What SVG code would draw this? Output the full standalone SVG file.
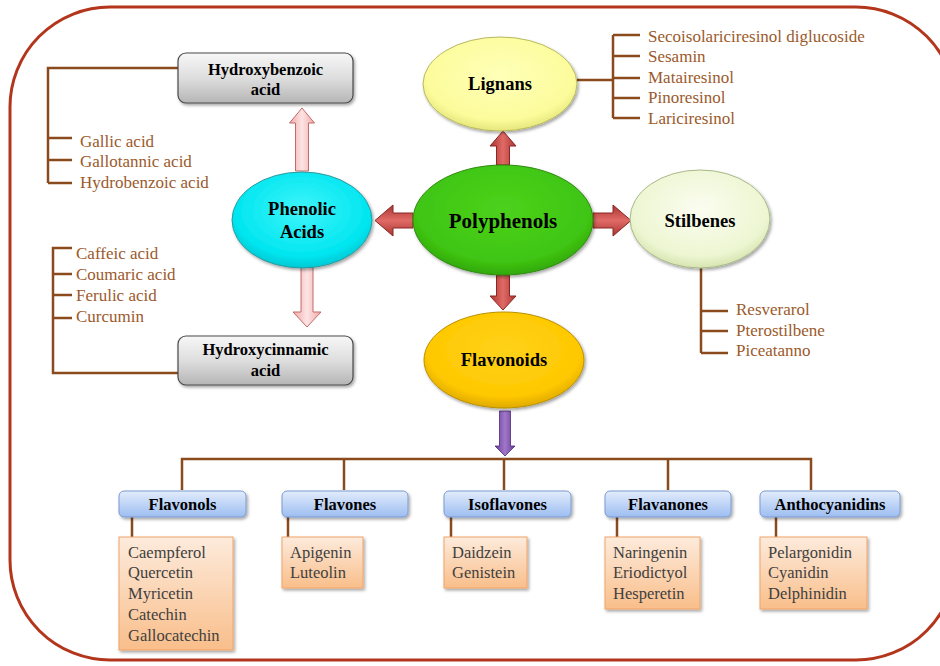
<svg xmlns="http://www.w3.org/2000/svg" width="940" height="666" viewBox="0 0 940 666">
<defs>
<linearGradient id="gGray" x1="0" y1="0" x2="0" y2="1"><stop offset="0" stop-color="#F7F7F7"/><stop offset="0.5" stop-color="#DEDEDE"/><stop offset="1" stop-color="#B5B5B5"/></linearGradient>
<linearGradient id="gBlue" x1="0" y1="0" x2="0" y2="1"><stop offset="0" stop-color="#E2ECFC"/><stop offset="1" stop-color="#9DBDF1"/></linearGradient>
<linearGradient id="gOrange" x1="0" y1="0" x2="0" y2="1"><stop offset="0" stop-color="#FDEBDC"/><stop offset="1" stop-color="#F9BE8A"/></linearGradient>
<radialGradient id="gCyan" cx="0.5" cy="0.4" r="0.6"><stop offset="0" stop-color="#40F4FA"/><stop offset="0.8" stop-color="#00E6F0"/><stop offset="1" stop-color="#00C8D4"/></radialGradient>
<radialGradient id="gGreen" cx="0.5" cy="0.4" r="0.6"><stop offset="0" stop-color="#4CD21C"/><stop offset="0.8" stop-color="#3FC512"/><stop offset="1" stop-color="#32A80C"/></radialGradient>
<radialGradient id="gYellow" cx="0.5" cy="0.4" r="0.6"><stop offset="0" stop-color="#FFFFB8"/><stop offset="0.8" stop-color="#FCFC9C"/><stop offset="1" stop-color="#E6E67C"/></radialGradient>
<radialGradient id="gPale" cx="0.5" cy="0.4" r="0.6"><stop offset="0" stop-color="#FBFDF0"/><stop offset="0.8" stop-color="#EDF6D2"/><stop offset="1" stop-color="#D6E4B0"/></radialGradient>
<radialGradient id="gGold" cx="0.5" cy="0.4" r="0.6"><stop offset="0" stop-color="#FFD21A"/><stop offset="0.8" stop-color="#FFC800"/><stop offset="1" stop-color="#E0AA00"/></radialGradient>
<linearGradient id="gRedV" x1="0" y1="0" x2="1" y2="0"><stop offset="0" stop-color="#A83430"/><stop offset="0.5" stop-color="#E06A66"/><stop offset="1" stop-color="#A83430"/></linearGradient>
<linearGradient id="gRedH" x1="0" y1="0" x2="0" y2="1"><stop offset="0" stop-color="#A83430"/><stop offset="0.5" stop-color="#E06A66"/><stop offset="1" stop-color="#A83430"/></linearGradient>
<linearGradient id="gPink" x1="0" y1="0" x2="1" y2="0"><stop offset="0" stop-color="#F2A8A8"/><stop offset="0.5" stop-color="#FDE4E4"/><stop offset="1" stop-color="#F2A8A8"/></linearGradient>
<linearGradient id="gPurple" x1="0" y1="0" x2="1" y2="0"><stop offset="0" stop-color="#6A3A9A"/><stop offset="0.5" stop-color="#A078C8"/><stop offset="1" stop-color="#6A3A9A"/></linearGradient>
<filter id="sh" x="-20%" y="-20%" width="140%" height="150%"><feDropShadow dx="1.5" dy="2" stdDeviation="1.5" flood-color="#000" flood-opacity="0.35"/></filter>
</defs>
<style>
.br{fill:none;stroke:#8B4A1C;stroke-width:2.5}
.lt{font-family:"Liberation Serif","Times New Roman",serif;font-size:17px;fill:#9B5A2C}
.ot{font-family:"Liberation Serif","Times New Roman",serif;font-size:16.5px;fill:#3F3F3F}
.bl{font-family:"Liberation Serif","Times New Roman",serif;font-size:16.5px;font-weight:bold;fill:#000;text-anchor:middle}
.el{font-family:"Liberation Serif","Times New Roman",serif;font-size:18.5px;font-weight:bold;fill:#000;text-anchor:middle}
.gray{fill:url(#gGray);stroke:#4A4A4A;stroke-width:1.2}
.blue{fill:url(#gBlue);stroke:#7B9BD0;stroke-width:1}
.orange{fill:url(#gOrange);stroke:#F0A468;stroke-width:1}
.ra{stroke:#8A2624;stroke-width:1}
.pa{fill:url(#gPink);stroke:#C06A6A;stroke-width:1}
</style>
<rect x="0" y="0" width="940" height="666" fill="#FFFFFF"/>
<rect id="frame" x="10" y="7" width="946" height="653" rx="100" ry="100" fill="none" stroke="#B3361C" stroke-width="3"/>

<g id="connectors">
<path class="br" d="M178 68 H48 V183 M48 138 H72 M48 160 H72 M48 183 H72"/>
<path class="br" d="M178 373 H53 V248 H72 M53 274 H72 M53 295 H72 M53 318 H72"/>
<path class="br" d="M577 80 H613 M613 35 V118 M613 35 H640 M613 56 H640 M613 78 H640 M613 98 H640 M613 118 H640"/>
<path class="br" d="M701 268 V353 M701 311 H728 M701 331 H728 M701 353 H728"/>
<path class="br" d="M182 490 V459 H811 V490 M344 459 V490 M504 459 V490 M668 459 V490"/>
<path class="br" d="M132 517 V537 M288 517 V537 M451 517 V537 M617 517 V537 M776 517 V537"/>
<polygon class="ra" fill="url(#gRedV)" points="503,131 516,146 509.5,146 509.5,165 496.5,165 496.5,146 490,146"/>
<polygon class="ra" fill="url(#gRedV)" points="503,310 516,296 509.5,296 509.5,275 496.5,275 496.5,296 490,296"/>
<polygon class="ra" fill="url(#gRedH)" points="375,220.5 393,205 393,213 413,213 413,228 393,228 393,236"/>
<polygon class="ra" fill="url(#gRedH)" points="631,220.5 613,205 613,213 593,213 593,228 613,228 613,236"/>
<polygon class="pa" points="302,108 314.5,123 308.5,123 308.5,171 295.5,171 295.5,123 289.5,123"/>
<polygon class="pa" points="307,327 321,312 313,312 313,267 301,267 301,312 293,312"/>
<polygon fill="url(#gPurple)" stroke="#4E2A78" stroke-width="0.8" points="505,456 515,446 510.5,446 510.5,411 499.5,411 499.5,446 495,446"/>
</g>

<g id="hydroxybenzoic">
<rect class="gray" filter="url(#sh)" x="178" y="53" width="175" height="50" rx="8"/>
<text class="bl" x="265.5" y="75">Hydroxybenzoic</text>
<text class="bl" x="265.5" y="95">acid</text>
</g>
<g id="hydroxybenzoic-list">
<text class="lt" x="80" y="147">Gallic acid</text>
<text class="lt" x="80" y="167">Gallotannic acid</text>
<text class="lt" x="80" y="188">Hydrobenzoic  acid</text>
</g>

<g id="hydroxycinnamic">
<rect class="gray" filter="url(#sh)" x="178" y="336" width="175" height="49" rx="8"/>
<text class="bl" x="265.5" y="355">Hydroxycinnamic</text>
<text class="bl" x="265.5" y="376">acid</text>
</g>
<g id="hydroxycinnamic-list">
<text class="lt" x="76" y="259">Caffeic acid</text>
<text class="lt" x="76" y="280">Coumaric acid</text>
<text class="lt" x="76" y="301">Ferulic acid</text>
<text class="lt" x="76" y="322">Curcumin</text>
</g>

<g id="phenolic-acids">
<ellipse filter="url(#sh)" cx="302" cy="220" rx="70" ry="48" fill="url(#gCyan)" stroke="#2A9A9E" stroke-width="1"/>
<text class="el" x="302" y="215">Phenolic</text>
<text class="el" x="302" y="238">Acids</text>
</g>

<g id="polyphenols">
<ellipse filter="url(#sh)" cx="503" cy="220" rx="90" ry="55" fill="url(#gGreen)" stroke="#2E8A10" stroke-width="1"/>
<text class="el" x="503" y="228" style="font-size:21px">Polyphenols</text>
</g>

<g id="lignans">
<ellipse filter="url(#sh)" cx="500" cy="84" rx="77" ry="47" fill="url(#gYellow)" stroke="#B8B860" stroke-width="1"/>
<text class="el" x="500" y="90">Lignans</text>
</g>
<g id="lignans-list">
<text class="lt" x="648" y="42">Secoisolariciresinol  diglucoside</text>
<text class="lt" x="648" y="62">Sesamin</text>
<text class="lt" x="648" y="83">Matairesinol</text>
<text class="lt" x="648" y="103">Pinoresinol</text>
<text class="lt" x="648" y="124">Lariciresinol</text>
</g>

<g id="stilbenes">
<ellipse filter="url(#sh)" cx="700" cy="219" rx="70" ry="49" fill="url(#gPale)" stroke="#A8B888" stroke-width="1"/>
<text class="el" x="700" y="227">Stilbenes</text>
</g>
<g id="stilbenes-list">
<text class="lt" x="736" y="315">Resverarol</text>
<text class="lt" x="736" y="336">Pterostilbene</text>
<text class="lt" x="736" y="356">Piceatanno</text>
</g>

<g id="flavonoids">
<ellipse filter="url(#sh)" cx="504" cy="360" rx="80" ry="48" fill="url(#gGold)" stroke="#B89000" stroke-width="1"/>
<text class="el" x="504" y="366">Flavonoids</text>
</g>

<g id="flavonols">
<rect class="blue" filter="url(#sh)" x="119" y="491" width="127" height="26" rx="5"/>
<text class="bl" x="182.5" y="510">Flavonols</text>
</g>
<g id="flavonols-list">
<rect class="orange" filter="url(#sh)" x="119" y="537" width="114" height="113"/>
<text class="ot" x="128" y="558">Caempferol</text>
<text class="ot" x="128" y="578">Quercetin</text>
<text class="ot" x="128" y="599">Myricetin</text>
<text class="ot" x="128" y="620">Catechin</text>
<text class="ot" x="128" y="641">Gallocatechin</text>
</g>

<g id="flavones">
<rect class="blue" filter="url(#sh)" x="282" y="491" width="126" height="26" rx="5"/>
<text class="bl" x="345" y="510">Flavones</text>
</g>
<g id="flavones-list">
<rect class="orange" filter="url(#sh)" x="282" y="537" width="81" height="51"/>
<text class="ot" x="290" y="558">Apigenin</text>
<text class="ot" x="290" y="578">Luteolin</text>
</g>

<g id="isoflavones">
<rect class="blue" filter="url(#sh)" x="444" y="491" width="127" height="26" rx="5"/>
<text class="bl" x="507.5" y="510">Isoflavones</text>
</g>
<g id="isoflavones-list">
<rect class="orange" filter="url(#sh)" x="444" y="537" width="83" height="51"/>
<text class="ot" x="452" y="558">Daidzein</text>
<text class="ot" x="452" y="578">Genistein</text>
</g>

<g id="flavanones">
<rect class="blue" filter="url(#sh)" x="605" y="491" width="126" height="26" rx="5"/>
<text class="bl" x="668" y="510">Flavanones</text>
</g>
<g id="flavanones-list">
<rect class="orange" filter="url(#sh)" x="605" y="537" width="95" height="72"/>
<text class="ot" x="613" y="558">Naringenin</text>
<text class="ot" x="613" y="578">Eriodictyol</text>
<text class="ot" x="613" y="599">Hesperetin</text>
</g>

<g id="anthocyanidins">
<rect class="blue" filter="url(#sh)" x="760" y="491" width="140" height="26" rx="5"/>
<text class="bl" x="830" y="510">Anthocyanidins</text>
</g>
<g id="anthocyanidins-list">
<rect class="orange" filter="url(#sh)" x="760" y="537" width="107" height="72"/>
<text class="ot" x="768" y="558">Pelargonidin</text>
<text class="ot" x="768" y="578">Cyanidin</text>
<text class="ot" x="768" y="599">Delphinidin</text>
</g>
</svg>
